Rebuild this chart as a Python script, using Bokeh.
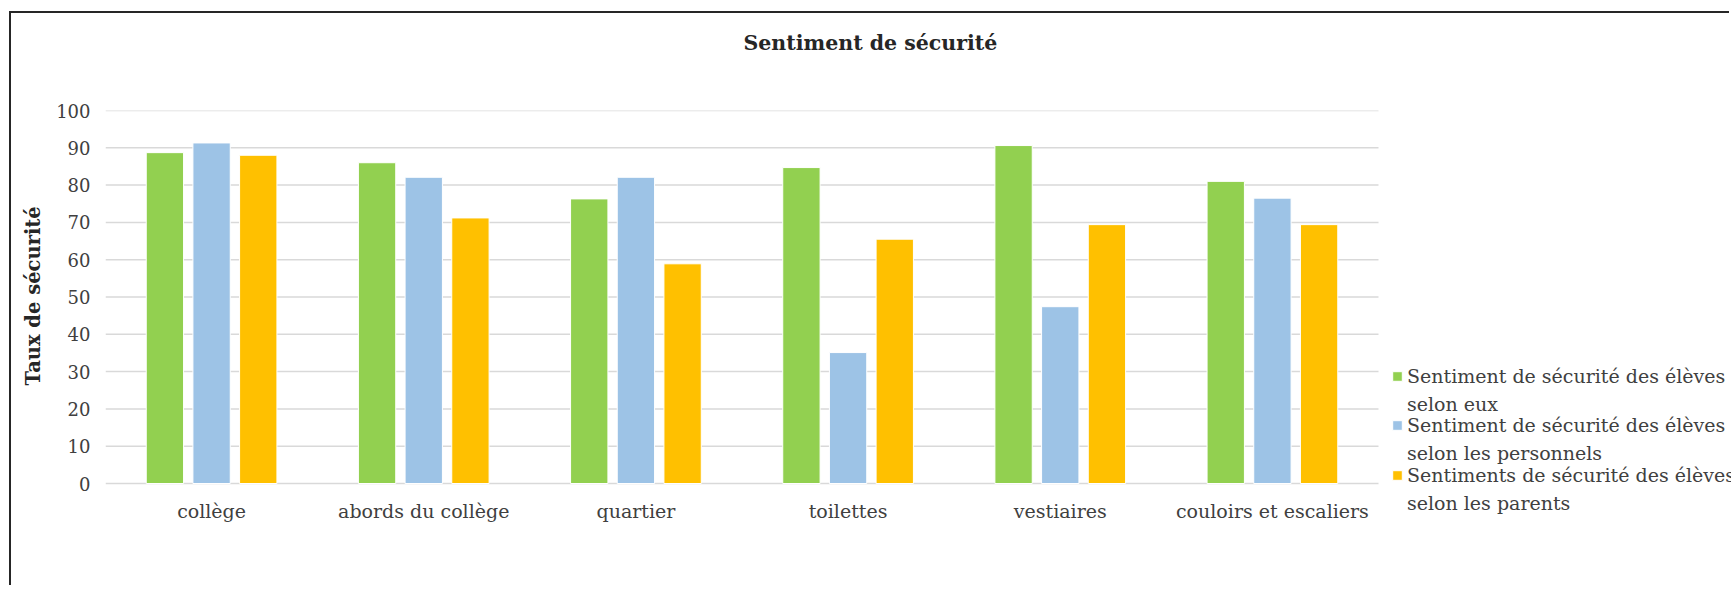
import numpy as np
from bokeh.plotting import figure
from bokeh.models import (Range1d, ColumnDataSource, FixedTicker,
                          Legend, LegendItem, Title)
from bokeh.core.properties import value
from bokeh.embed import file_html
from bokeh.resources import INLINE

# ---------------- data ----------------
categories = ["collège", "abords du collège", "quartier", "toilettes",
              "vestiaires", "couloirs et escaliers"]
eleves = [88.7, 86.0, 76.3, 84.7, 90.6, 81.0]
personnels = [91.3, 82.1, 82.1, 35.1, 47.4, 76.5]
parents = [88.0, 71.2, 58.9, 65.5, 69.4, 69.4]
series_keys = ["eleves", "personnels", "parents"]
series_labels = [
    ["Sentiment de sécurité des élèves", "selon eux"],
    ["Sentiment de sécurité des élèves", "selon les personnels"],
    ["Sentiments de sécurité des élèves", "selon les parents"],
]
colors = ["#92D050", "#9DC3E6", "#FFC000"]
y_ticks = [0, 10, 20, 30, 40, 50, 60, 70, 80, 90, 100]
title_text = "Sentiment de sécurité"
y_title = "Taux de sécurité"

FONT = "DejaVu Serif"
TXT = "#404040"

# ---------------- layout (pixels) ----------------
W, H = 1720, 574
PX_PER_CAT = 212.17          # width of one category slot
PX_PER_UNIT_Y = 3.73         # pixels per percentage point
x_end = len(categories) + 353 / PX_PER_CAT   # frame runs on under the legend
y_start = -104 / PX_PER_UNIT_Y               # frame runs on under the labels

p = figure(width=W, height=H, output_backend="svg", toolbar_location=None,
           x_range=Range1d(0, x_end), y_range=Range1d(y_start, 100),
           min_border_left=94, min_border_right=0,
           min_border_top=97, min_border_bottom=0,
           background_fill_color="white", border_fill_color="white",
           outline_line_color=None,
           styles={"margin-left": "9px", "margin-top": "11px",
                   "border-top": "2px solid #262626",
                   "border-left": "2px solid #262626"})
p.title_location = None

# title: a blank spacer next to the frame pushes the real title upward
spacer = Title(text=" ", standoff=31, text_font=FONT, text_font_size="19px")
title = Title(text=title_text, align="left", offset=638, vertical_align="middle",
              standoff=0, text_font=FONT, text_font_style="bold",
              text_font_size="20.5px", text_color="#262626")
p.add_layout(spacer, "above")
p.add_layout(title, "above")

# horizontal gridlines, only across the category area
p.xgrid.grid_line_color = None
p.ygrid.grid_line_color = None
p.segment(x0=[0] * len(y_ticks), x1=[len(categories)] * len(y_ticks),
          y0=y_ticks, y1=y_ticks, line_color="#d9d9d9", line_width=1.5)

# bars
centers = np.arange(len(categories)) + 0.5
src = ColumnDataSource(dict(x=centers, eleves=eleves,
                            personnels=personnels, parents=parents))
offsets = [-0.22, 0.0, 0.22]
bar_renderers = []
for key, off, col in zip(series_keys, offsets, colors):
    r = p.vbar(x=centers + off, top=src.data[key], bottom=0, width=0.176,
               fill_color=col, line_color="white", line_width=1)
    bar_renderers.append(r)

# category labels
p.text(x=centers, y=[-27 / PX_PER_UNIT_Y] * len(categories), text=categories,
       text_align="center", text_baseline="middle",
       text_font=value(FONT), text_font_size=value("19px"), text_color=TXT)

# y axis
p.yaxis.ticker = FixedTicker(ticks=y_ticks)
p.yaxis.axis_line_color = None
p.yaxis.major_tick_line_color = None
p.yaxis.minor_tick_line_color = None
p.yaxis.major_tick_out = 0
p.yaxis.major_tick_in = 0
p.yaxis.major_label_standoff = 15
p.yaxis.major_label_text_font = FONT
p.yaxis.major_label_text_font_size = "18px"
p.yaxis.major_label_text_color = TXT
p.xaxis.visible = False

ytitle = Title(text=y_title, align="left", offset=202, vertical_align="middle",
               standoff=16, text_font=FONT, text_font_style="bold",
               text_font_size="19.5px", text_color="#262626")
p.add_layout(ytitle, "left")

# legend: one small legend per series, second line with an invisible glyph
blank = p.scatter(x=[], y=[], size=1, fill_alpha=0, line_alpha=0)
legend_bottoms = [169, 120, 70]
for lab, r, vy in zip(series_labels, bar_renderers, legend_bottoms):
    items = [LegendItem(label=lab[0], renderers=[r]),
             LegendItem(label=lab[1], renderers=[blank])]
    legend = Legend(items=items, location=(1286, vy), orientation="vertical",
                    glyph_width=12, glyph_height=12, label_height=28,
                    label_standoff=4, spacing=0, padding=0, margin=0,
                    border_line_color=None, background_fill_alpha=0,
                    label_text_font=FONT, label_text_font_size="19px",
                    label_text_color=TXT)
    p.add_layout(legend, "center")

open("out.html", "w").write(file_html(p, INLINE))
